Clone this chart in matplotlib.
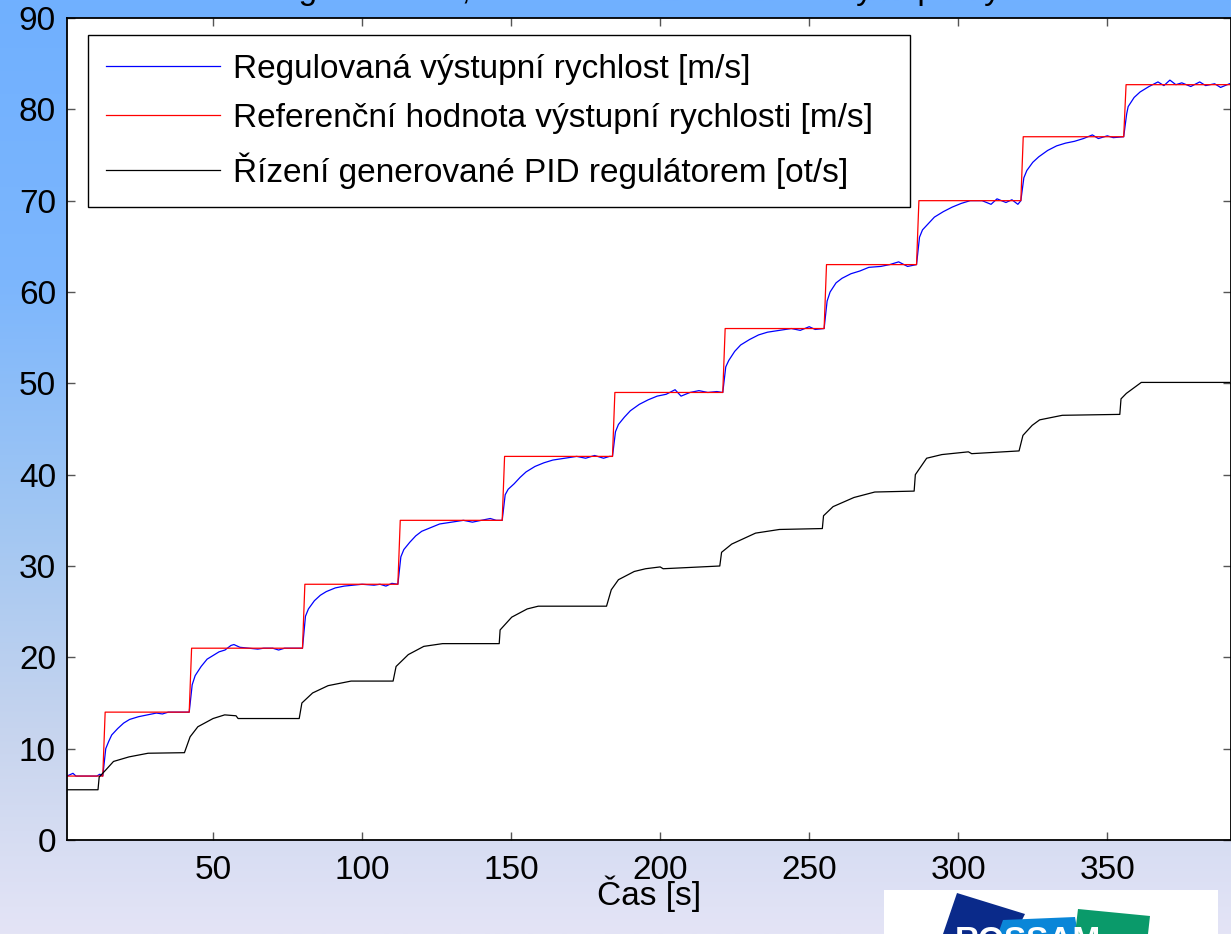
import numpy as np
import matplotlib
matplotlib.use("Agg")
import matplotlib.pyplot as plt
from matplotlib.patches import Polygon, Rectangle

plt.rcParams['font.family'] = ['Liberation Sans', 'DejaVu Sans']

# referencni hodnota - casy skoku a urovne
ref_times = [13, 42, 80, 112, 147, 184, 221, 255, 286, 321, 355.5]
ref_levels = [7, 14, 21, 28, 35, 42, 49, 56, 63, 70, 77, 82.7]

# regulovana vystupni rychlost
out_t = [1, 3, 4, 11, 12, 13,
         14, 15, 16, 18, 20, 22, 25, 28, 31, 33, 35, 42,
         43, 44, 46, 48, 50, 52, 54, 56, 57, 59, 62, 65, 67, 70, 72, 74, 78, 80,
         81, 82, 84, 86, 88, 91, 94, 97, 100, 104, 106, 108, 110, 112,
         113, 114, 116, 118, 120, 123, 126, 130, 134, 137, 140, 143, 145, 147,
         148, 149, 151, 153, 155, 158, 161, 164, 168, 172, 175, 178, 181, 183, 184,
         185, 186, 188, 190, 193, 196, 199, 202, 205, 207, 210, 213, 216, 219, 221,
         222, 223, 225, 227, 230, 233, 236, 240, 244, 247, 250, 252, 255,
         256, 257, 259, 261, 264, 267, 270, 274, 277, 280, 283, 286,
         287, 288, 290, 292, 295, 298, 301, 304, 308, 311, 313, 316, 318, 320, 321,
         322, 323, 325, 327, 330, 333, 336, 339, 342, 345, 347, 350, 352, 355.5,
         356.5, 357, 359, 361, 364, 367, 369, 371, 373, 375, 378, 381, 383, 386, 388, 391]
out_v = [7.0, 7.3, 7.0, 7.0, 7.2, 7.0,
         10.0, 10.8, 11.5, 12.2, 12.8, 13.2, 13.5, 13.7, 13.9, 13.8, 14.0, 14.0,
         17.0, 18.0, 19.0, 19.8, 20.2, 20.6, 20.8, 21.3, 21.4, 21.1, 21.0, 20.9, 21.0, 21.0, 20.8, 21.0, 21.0, 21.0,
         24.5, 25.3, 26.2, 26.8, 27.2, 27.6, 27.8, 27.9, 28.0, 27.9, 28.0, 27.8, 28.1, 28.0,
         31.0, 31.8, 32.6, 33.3, 33.8, 34.2, 34.6, 34.8, 35.0, 34.8, 35.0, 35.2, 35.0, 35.0,
         37.8, 38.4, 39.0, 39.7, 40.3, 40.9, 41.3, 41.6, 41.8, 42.0, 41.8, 42.1, 41.8, 42.0, 42.0,
         44.7, 45.5, 46.3, 47.0, 47.7, 48.2, 48.6, 48.8, 49.3, 48.6, 49.0, 49.2, 49.0, 49.1, 49.0,
         51.8, 52.5, 53.5, 54.2, 54.8, 55.3, 55.6, 55.8, 56.0, 55.8, 56.2, 55.9, 56.0,
         59.0, 60.0, 61.0, 61.5, 62.0, 62.3, 62.7, 62.8, 63.0, 63.3, 62.8, 63.0,
         66.0, 66.8, 67.5, 68.2, 68.8, 69.3, 69.7, 70.0, 70.0, 69.6, 70.2, 69.8, 70.1, 69.6, 70.0,
         72.5, 73.3, 74.2, 74.8, 75.5, 76.0, 76.3, 76.5, 76.8, 77.2, 76.8, 77.1, 76.9, 77.0,
         79.5, 80.3, 81.3, 81.9, 82.5, 83.0, 82.6, 83.2, 82.7, 82.9, 82.5, 83.0, 82.6, 82.8, 82.4, 82.8]

# rizeni generovane PID regulatorem
ctl_t = [1, 11.4, 11.8, 14.1, 16.6, 21.8, 28.2, 40.4,
         42.3, 44.9, 50.0, 53.9, 57.7, 58.4, 78.9,
         79.8, 83.4, 88.6, 96.3, 110.4,
         111.4, 115.5, 120.7, 127.0, 146.0,
         146.3, 150.2, 155.4, 159.1, 182.0,
         183.6, 186.0, 191.3, 195.1, 200.0, 201.0, 220.0,
         220.6, 224.0, 228.0, 232.0, 240.0, 254.4,
         254.8, 258.0, 265.0, 272.0, 285.2,
         285.6, 289.4, 294.5, 303.4, 304.5, 320.4,
         321.7, 324.8, 327.3, 334.9, 354.2,
         354.6, 356.4, 361.4, 391]
ctl_v = [5.5, 5.5, 6.9, 7.7, 8.6, 9.1, 9.5, 9.56,
         11.3, 12.4, 13.3, 13.7, 13.6, 13.3, 13.3,
         15.0, 16.1, 16.9, 17.4, 17.4,
         19.0, 20.3, 21.2, 21.5, 21.5,
         23.0, 24.4, 25.3, 25.6, 25.6,
         27.4, 28.5, 29.4, 29.7, 29.9, 29.7, 30.0,
         31.5, 32.4, 33.0, 33.6, 34.0, 34.1,
         35.5, 36.5, 37.5, 38.1, 38.2,
         40.0, 41.8, 42.2, 42.5, 42.3, 42.6,
         44.3, 45.4, 46.0, 46.5, 46.6,
         48.3, 48.9, 50.1, 50.1]

labels = ['Regulovaná výstupní rychlost [m/s]',
          'Referenční hodnota výstupní rychlosti [m/s]',
          'Řízení generované PID regulátorem [ot/s]']

# schodovity prubeh reference
ref_t = [1]
ref_v = [ref_levels[0]]
for i, ts in enumerate(ref_times):
    ref_t += [ts, ts + 0.8]
    ref_v += [ref_levels[i], ref_levels[i + 1]]
ref_t.append(391)
ref_v.append(ref_levels[-1])

W, H = 1231, 934
FS = 24
fig = plt.figure(figsize=(W / 100, H / 100), dpi=100)

# pozadi s prechodem
bg = fig.add_axes([0, 0, 1, 1], zorder=-10)
stops = np.array([[112, 176, 255], [124, 182, 253], [160, 198, 243],
                  [198, 212, 238], [228, 228, 246]]) / 255.0
pos = np.array([0.0, 0.3, 0.55, 0.78, 1.0])
yy = np.linspace(0, 1, 400)
grad = np.stack([np.interp(yy, pos, stops[:, k]) for k in range(3)], axis=-1)
bg.imshow(grad[:, None, :], aspect='auto', extent=[0, 1, 1, 0])
bg.set_xlim(0, 1)
bg.set_ylim(1, 0)
bg.axis('off')

ax = fig.add_axes([67 / W, 94 / H, 1164 / W, 822 / H])
ax.set_facecolor('white')
l1, = ax.plot(out_t, out_v, color='#0000ff', lw=0.9)
l2, = ax.plot(ref_t, ref_v, color='#ff0000', lw=0.9)
l3, = ax.plot(ctl_t, ctl_v, color='black', lw=0.9)

ax.set_xlim(1, 391.5)
ax.set_ylim(0, 90)
ax.set_xticks([50, 100, 150, 200, 250, 300, 350])
ax.set_yticks(range(0, 91, 10))
ax.tick_params(direction='in', top=True, right=True, length=6, width=1,
               color='#555555', labelsize=FS)
ax.tick_params(axis='x', pad=11)
ax.tick_params(axis='y', pad=8)
for s in ax.spines.values():
    s.set_linewidth(1.3)
ax.set_xlabel('Čas [s]', fontsize=FS, labelpad=-8)

leg = ax.legend([l1, l2, l3], labels, loc='upper left',
                bbox_to_anchor=(0.018, 0.0, 0.706, 0.979), mode='expand',
                borderaxespad=0, fontsize=FS, handlelength=3.4,
                handletextpad=0.4, labelspacing=0.55, borderpad=0.55,
                fancybox=False, framealpha=1, edgecolor='black')
leg.get_frame().set_linewidth(1.0)

# nadpis (orezany hornim okrajem)
fig.text(0.549, 1.0 + 1.5 / H,
         'Regulace PID, skoková změna žádané výstupní rychlosti',
         fontsize=FS, ha='center', va='baseline')

# logo vpravo dole
def fp(x, y):
    return (x / W, 1 - y / H)

fig.patches.append(Rectangle(fp(884, 934), 334 / W, 44 / H, facecolor='white',
                             edgecolor='none', transform=fig.transFigure))
for pts, col in [([(957, 893), (1025, 914), (1015, 934), (943, 934)], '#0a2a8a'),
                 ([(1003, 920), (1075, 917), (1078, 934), (998, 934)], '#0a86d8'),
                 ([(1078, 909), (1150, 916), (1148, 934), (1075, 934)], '#0a9a6a')]:
    fig.patches.append(Polygon([fp(*p) for p in pts], closed=True, facecolor=col,
                               edgecolor='none', transform=fig.transFigure))
fig.text(955 / W, 1 - 950 / H, 'ROSSAM', fontsize=24, fontweight='bold',
         color='white', ha='left', va='baseline')

fig.savefig('out.png', dpi=100)
